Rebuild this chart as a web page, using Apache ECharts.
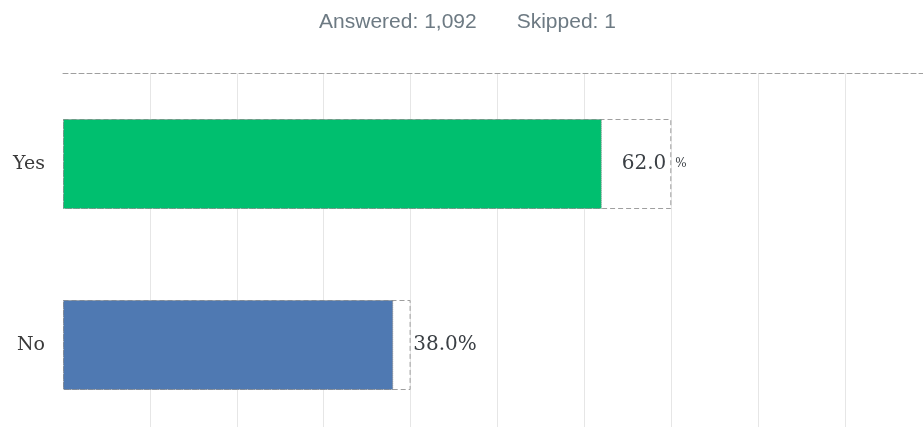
<!DOCTYPE html>
<html>
<head>
    <meta charset="utf-8">
    <title>Answered / Skipped</title>
    <script src="https://cdn.jsdelivr.net/npm/echarts@6/dist/echarts.min.js"></script>
    <style>
        html, body { margin: 0; padding: 0; background: #fff; width: 923px; height: 427px; overflow: hidden; }
        /* the plot runs past the bottom and right edge of the window */
        #chart { width: 935px; height: 440px; }
    </style>
</head>
<body>
<div id="chart"></div>
<script>
    // data
    var categories = ['Yes', 'No'];
    var percents = [62.0, 38.0];
    var valueLabels = ['62.0 %', '38.0%'];
    var outlineValues = [70, 40];      // dashed boxes behind the bars
    var barColors = ['#00bf6f', '#4f79b2'];
    var answered = '1,092';
    var skipped = '1';

    var chart = echarts.init(document.getElementById('chart'));

    var option = {
        backgroundColor: '#ffffff',
        animation: false,
        title: {
            left: 'center',
            top: 7,
            text: '{a|Answered: ' + answered + '}{gap|}{a|Skipped: ' + skipped + '}',
            textStyle: {
                rich: {
                    a: { fontFamily: 'Liberation Sans', fontSize: 21, fontWeight: 'normal', color: '#6d7a83' },
                    gap: { width: 40 }
                }
            }
        },
        grid: { left: 63, top: 73.5, width: 869, height: 362 },
        xAxis: {
            type: 'value',
            position: 'top',
            min: 0,
            max: 100,
            interval: 10,
            axisLabel: { show: false },
            axisTick: { show: false },
            axisLine: { show: true, lineStyle: { color: '#9f9f9f', type: [5, 3], width: 1 } },
            splitLine: { show: true, showMinLine: false, lineStyle: { color: '#e6e6e6', width: 1 } }
        },
        yAxis: {
            type: 'category',
            inverse: true,
            data: categories,
            axisLine: { show: false },
            axisTick: { show: false },
            axisLabel: {
                margin: 18,
                fontFamily: 'DejaVu Serif',
                fontSize: 19,
                color: '#3a3a3a'
            }
        },
        series: [
            {
                // dashed ghost boxes
                type: 'bar',
                data: outlineValues,
                barWidth: 90,
                barGap: '-100%',
                silent: true,
                itemStyle: {
                    color: 'rgba(0,0,0,0)',
                    borderColor: '#9f9f9f',
                    borderType: [5, 3],
                    borderWidth: 1
                },
                z: 1
            },
            {
                type: 'bar',
                barWidth: 90,
                data: percents.map(function (v, i) {
                    return { value: v, itemStyle: { color: barColors[i] } };
                }),
                itemStyle: {
                    borderColor: '#8a8a8a',
                    borderType: 'dotted',
                    borderWidth: 1
                },
                label: {
                    show: true,
                    position: 'right',
                    distance: 20,
                    formatter: function (p) {
                        var s = valueLabels[p.dataIndex];
                        if (s.indexOf(' %') > 0) {
                            return '{n|' + s.replace(' %', '') + '}{sp|}{p|%}';
                        }
                        return '{n|' + s + '}';
                    },
                    rich: {
                        n: { fontFamily: 'DejaVu Serif', fontSize: 20, color: '#3a3f44' },
                        sp: { width: 9 },
                        p: { fontFamily: 'DejaVu Serif', fontSize: 12, color: '#3a3f44' }
                    }
                },
                z: 2
            }
        ]
    };

    chart.setOption(option);
</script>
</body>
</html>
